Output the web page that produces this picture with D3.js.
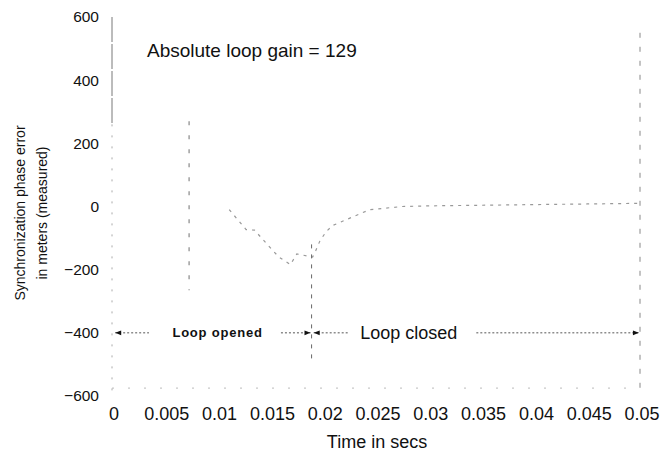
<!DOCTYPE html>
<html>
<head>
<meta charset="utf-8">
<script src="https://d3js.org/d3.v7.min.js"></script>
<style>
body { margin: 0; background: #fff; }
text { font-family: "Liberation Sans", Arial, Helvetica, sans-serif; fill: #111; }
</style>
</head>
<body>
<div id="plot"></div>
<script>
// measured phase error (m) vs time (s)
let timeVals = [0.0111, 0.0127, 0.0135, 0.0147, 0.0158, 0.0169, 0.0175, 0.0190, 0.0193, 0.0197, 0.0203, 0.0209, 0.0244, 0.0275, 0.030, 0.035, 0.040, 0.045, 0.050];
let errVals  = [-10, -73, -75, -120, -160, -184, -150, -160, -139, -108, -79, -60, -10, 0, 2, 4, 6, 8, 10];
// spike while loop open
let spikeT = [0.0073, 0.0073];
let spikeV = [270, -265];
let xTicks = [0, 0.005, 0.01, 0.015, 0.02, 0.025, 0.03, 0.035, 0.04, 0.045, 0.05];
let yTicks = [600, 400, 200, 0, -200, -400, -600];
let tClose = 0.0189, tEnd = 0.05;

let width = 663, height = 457;
let svg = d3.select('#plot').append('svg').attr('width', width).attr('height', height);

let x = d3.scaleLinear().domain([0, 0.05]).range([112, 640]);
let y = d3.scaleLinear().domain([-600, 600]).range([396, 17]);

let defs = svg.append('defs');
defs.append('marker').attr('id', 'ah').attr('viewBox', '0 0 10 10')
  .attr('refX', 10).attr('refY', 5).attr('markerWidth', 9).attr('markerHeight', 6)
  .attr('orient', 'auto-start-reverse')
  .append('path').attr('d', 'M0,1L10,5L0,9Z').attr('fill', '#111');

// y axis line (dark at top, faint below)
svg.append('line').attr('x1', x(0)).attr('x2', x(0)).attr('y1', y(600)).attr('y2', y(260))
  .attr('stroke', '#555').attr('stroke-width', 0.8).attr('stroke-dasharray', '25,2');
svg.append('line').attr('x1', x(0)).attr('x2', x(0)).attr('y1', y(260)).attr('y2', y(-600))
  .attr('stroke', '#aaa').attr('stroke-width', 1).attr('stroke-dasharray', '2,9');
// faint bottom axis
svg.append('line').attr('x1', x(0)).attr('x2', x(0.05)).attr('y1', y(-575)).attr('y2', y(-575))
  .attr('stroke', '#bbb').attr('stroke-dasharray', '2,14');

// y tick labels
svg.selectAll('.yl').data(yTicks).enter().append('text')
  .attr('x', 99).attr('y', d => y(d)).attr('dy', '0.35em')
  .attr('text-anchor', 'end').attr('font-size', 15.5)
  .text(d => d < 0 ? '\u2212' + Math.abs(d) : d);

// x tick labels
svg.selectAll('.xl').data(xTicks).enter().append('text')
  .attr('x', d => x(d) + 2).attr('y', 420)
  .attr('text-anchor', 'middle').attr('font-size', 18)
  .text(d => d);

// axis titles
svg.append('text').attr('x', 377).attr('y', 448).attr('text-anchor', 'middle')
  .attr('font-size', 18).text('Time in secs');
let yt = svg.append('text').attr('transform', 'translate(25,213) rotate(-90)')
  .attr('text-anchor', 'middle').attr('font-size', 14);
yt.append('tspan').attr('x', 0).attr('dy', 0).text('Synchronization phase error');
yt.append('tspan').attr('x', 0).attr('dy', 22).text('in meters (measured)');

// annotation
svg.append('text').attr('x', 147).attr('y', 57).attr('font-size', 19).text('Absolute loop gain = 129');

let line = d3.line().x(d => x(d[0])).y(d => y(d[1]));

// measured trace
svg.append('path').datum(d3.zip(timeVals, errVals)).attr('d', line)
  .attr('fill', 'none').attr('stroke', '#999').attr('stroke-width', 1.2).attr('stroke-dasharray', '3,5');
svg.append('path').datum(d3.zip(spikeT, spikeV)).attr('d', line)
  .attr('fill', 'none').attr('stroke', '#888').attr('stroke-width', 1.2).attr('stroke-dasharray', '4,10');

// loop closure & end markers
svg.append('path').datum([[tClose, -120], [tClose, -490]]).attr('d', line)
  .attr('fill', 'none').attr('stroke', '#666').attr('stroke-dasharray', '4,6');
svg.append('path').datum([[tEnd, 550], [tEnd, -600]]).attr('d', line)
  .attr('fill', 'none').attr('stroke', '#888').attr('stroke-dasharray', '5,9');

// arrows at -400
let arrows = [
  [0.0003, 0.0035, 'start'],
  [0.0160, 0.0188, 'end'],
  [0.0191, 0.0224, 'start'],
  [0.0345, 0.0499, 'end']
];
arrows.forEach(a => {
  svg.append('line').attr('x1', x(a[0])).attr('x2', x(a[1])).attr('y1', y(-400)).attr('y2', y(-400))
    .attr('stroke', '#555').attr('stroke-width', 1).attr('stroke-dasharray', '2,2')
    .attr(a[2] === 'start' ? 'marker-start' : 'marker-end', 'url(#ah)');
});
svg.append('text').attr('x', x(0.0100)).attr('y', y(-400)).attr('dy', '0.35em')
  .attr('text-anchor', 'middle').attr('font-size', 13).attr('font-weight', 'bold').attr('letter-spacing', 0.8)
  .text('Loop opened');
svg.append('text').attr('x', x(0.0235)).attr('y', y(-400)).attr('dy', '0.35em')
  .attr('font-size', 18).text('Loop closed');
</script>
</body>
</html>
